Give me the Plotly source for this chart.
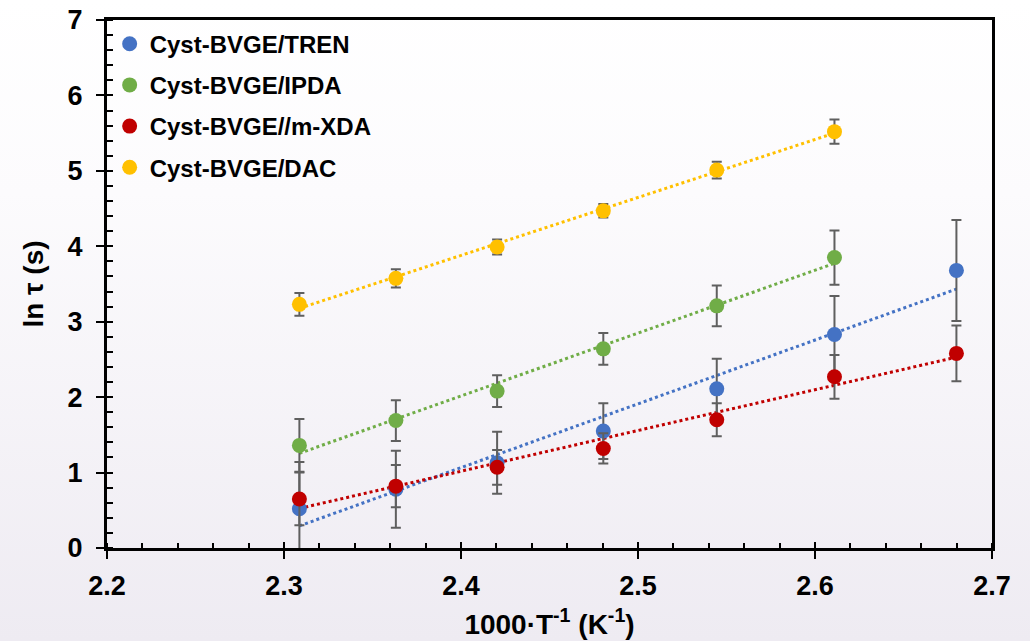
import base64
import numpy as np
import plotly.graph_objects as go

# ---------------- data ----------------
temps_c = [160, 150, 140, 130, 120, 110, 100]
x_all = [2.3087, 2.3632, 2.4204, 2.4804, 2.5445, 2.6110, 2.6799]

tren_y = [0.52, 0.78, 1.13, 1.55, 2.11, 2.83, 3.68]
tren_err = [0.62, 0.51, 0.41, 0.37, 0.40, 0.51, 0.67]

ipda_y = [1.36, 1.69, 2.08, 2.64, 3.21, 3.85]
ipda_err = [0.35, 0.27, 0.21, 0.21, 0.27, 0.36]

mxda_y = [0.65, 0.82, 1.07, 1.32, 1.70, 2.27, 2.58]
mxda_err = [0.35, 0.28, 0.23, 0.20, 0.22, 0.29, 0.37]

dac_y = [3.23, 3.575, 3.99, 4.47, 5.01, 5.52]
dac_err = [0.15, 0.12, 0.10, 0.09, 0.11, 0.16]

names = ["Cyst-BVGE/TREN", "Cyst-BVGE/IPDA", "Cyst-BVGE//m-XDA", "Cyst-BVGE/DAC"]
colors = ["#4472C4", "#70AD47", "#C00000", "#FFC000"]
series_y = [tren_y, ipda_y, mxda_y, dac_y]
series_err = [tren_err, ipda_err, mxda_err, dac_err]

x_ticks = [2.2, 2.3, 2.4, 2.5, 2.6, 2.7]
y_ticks = [0, 1, 2, 3, 4, 5, 6, 7]

FONT = "Liberation Sans, Arial, sans-serif"

fig = go.Figure()

# trend lines (linear least squares on each series)
for name, col, ys in zip(names, colors, series_y):
    xs = np.array(x_all[:len(ys)])
    k, b = np.polyfit(xs, np.array(ys), 1)
    fig.add_trace(go.Scatter(
        x=[xs[0], xs[-1]], y=[k * xs[0] + b, k * xs[-1] + b],
        mode="lines", line=dict(color=col, width=3, dash="dot"),
        showlegend=False, hoverinfo="skip"))

# data points with error bars
for i, (name, col, ys, es) in enumerate(zip(names, colors, series_y, series_err)):
    fig.add_trace(go.Scatter(
        x=x_all[:len(ys)], y=ys, name=name, mode="markers",
        marker=dict(color=col, size=15),
        error_y=dict(type="data", array=es, visible=True,
                     color="#5f5f5f", thickness=2, width=5),
        legendgroup=name))

# invisible trace on overlay axes for crossing ticks
fig.add_trace(go.Scatter(x=[2.2], y=[0], xaxis="x2", yaxis="y2",
                         mode="markers", marker=dict(opacity=0),
                         showlegend=False, hoverinfo="skip"))

grad_svg = (
    '<svg xmlns="http://www.w3.org/2000/svg" width="100" height="100" preserveAspectRatio="none">'
    '<defs><linearGradient id="g" x1="0" y1="0" x2="0" y2="1">'
    '<stop offset="0" stop-color="#ffffff"/>'
    '<stop offset="0.3" stop-color="#fcfbfd"/>'
    '<stop offset="1" stop-color="#eeebf2"/>'
    '</linearGradient></defs>'
    '<rect width="100" height="100" fill="url(#g)"/></svg>')
grad_uri = "data:image/svg+xml;base64," + base64.b64encode(grad_svg.encode()).decode()

L, R, T, B = 107, 38, 20, 93
W, H = 1030, 641
pw, ph = W - L - R, H - T - B

axis_common = dict(showgrid=False, zeroline=False, linecolor="black", linewidth=3,
                   tickcolor="black", tickwidth=2, automargin=False)

fig.update_layout(
    width=W, height=H,
    margin=dict(l=L, r=R, t=T, b=B),
    paper_bgcolor="white",
    plot_bgcolor="rgba(0,0,0,0)",
    font=dict(family=FONT, color="black", size=27, weight="bold"),
    images=[dict(source=grad_uri, xref="paper", yref="paper",
                 x=-L / pw, y=1 + T / ph, sizex=W / pw, sizey=H / ph,
                 xanchor="left", yanchor="top", sizing="stretch", layer="below")],
    xaxis=dict(range=[2.2, 2.7], tickvals=x_ticks, ticktext=[f"{v:.1f}" for v in x_ticks],
               ticks="outside", ticklen=8, mirror=True, showline=True,
               ticklabelstandoff=4,
               minor=dict(dtick=0.02, ticks="inside", ticklen=5, tickwidth=2, tickcolor="black"),
               tickfont=dict(size=27, family=FONT, weight="bold"),
               title=dict(text="1000·T<sup>-1</sup> (K<sup>-1</sup>)",
                          font=dict(size=28, family=FONT, weight="bold"), standoff=14),
               **axis_common),
    yaxis=dict(range=[0, 7], tickvals=y_ticks, ticks="outside", ticklen=8, mirror=True,
               showline=True, ticklabelstandoff=8,
               minor=dict(dtick=0.2, ticks="inside", ticklen=6, tickwidth=2, tickcolor="black"),
               tickfont=dict(size=27, family=FONT, weight="bold"),
               title=dict(text="ln τ (s)", font=dict(size=28, family=FONT, weight="bold"),
                          standoff=16),
               **axis_common),
    xaxis2=dict(range=[2.2, 2.7], overlaying="x", anchor="y2", side="bottom",
                tickvals=x_ticks, ticks="inside", ticklen=6, tickwidth=2, tickcolor="black",
                showticklabels=False, showline=False, showgrid=False, zeroline=False),
    yaxis2=dict(range=[0, 7], overlaying="y", anchor="x2", side="left",
                tickvals=y_ticks, ticks="inside", ticklen=6, tickwidth=2, tickcolor="black",
                showticklabels=False, showline=False, showgrid=False, zeroline=False),
    legend=dict(x=0.003, y=0.997, xanchor="left", yanchor="top",
                bgcolor="rgba(0,0,0,0)", font=dict(size=24, family=FONT, weight="bold"),
                tracegroupgap=7, itemwidth=30),
    showlegend=True,
)

fig.write_html("out.html")
